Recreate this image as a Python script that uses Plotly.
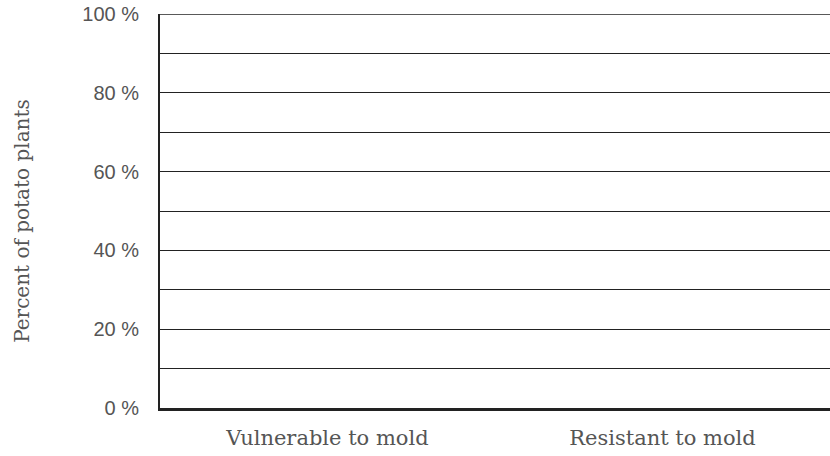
import plotly.graph_objects as go

categories = ["Vulnerable to mold", "Resistant to mold"]
values = [0, 0]
y_tickvals = [0, 20, 40, 60, 80, 100]
y_ticktext = ["0 %", "20 %", "40 %", "60 %", "80 %", "100 %"]
y_title = "Percent of potato plants"

fig = go.Figure(go.Bar(x=categories, y=values, marker=dict(color="rgba(0,0,0,0)", line=dict(width=0)),
                       hoverinfo="skip"))

fig.update_layout(
    width=830, height=456,
    margin=dict(l=160, r=0, t=14, b=48),
    paper_bgcolor="white", plot_bgcolor="white",
    showlegend=False,
)
fig.update_yaxes(
    range=[0, 100],
    tickmode="array",
    tickvals=y_tickvals, ticktext=y_ticktext,
    showgrid=False,
    showline=True, linecolor="#222", linewidth=2,
    ticks="", ticklabelstandoff=15,
    tickfont=dict(family="Liberation Sans", size=20, color="#555"),
    zeroline=False,
    minor=dict(showgrid=True, gridcolor="#222", gridwidth=1, tick0=0, dtick=10),
)
fig.update_xaxes(
    showline=True, linecolor="#222", linewidth=2.5,
    showgrid=False, ticks="", ticklabelstandoff=9,
    tickfont=dict(family="DejaVu Serif", size=21, color="#555"),
)
# top gridline at 100 %
fig.add_shape(type="line", xref="paper", x0=0, x1=1, yref="y", layer="above",
              y0=y_tickvals[-1], y1=y_tickvals[-1], line=dict(color="#222", width=1.5))
# rotated axis title
fig.add_annotation(text=y_title, textangle=-90, xref="paper", yref="paper",
                   x=-0.206, y=0.475, xanchor="center", yanchor="middle", showarrow=False,
                   font=dict(family="DejaVu Serif", size=20, color="#555"))

fig.write_html("out.html", config={"displayModeBar": False},
               post_script="document.body.style.margin='0';document.body.style.overflow='hidden';")
